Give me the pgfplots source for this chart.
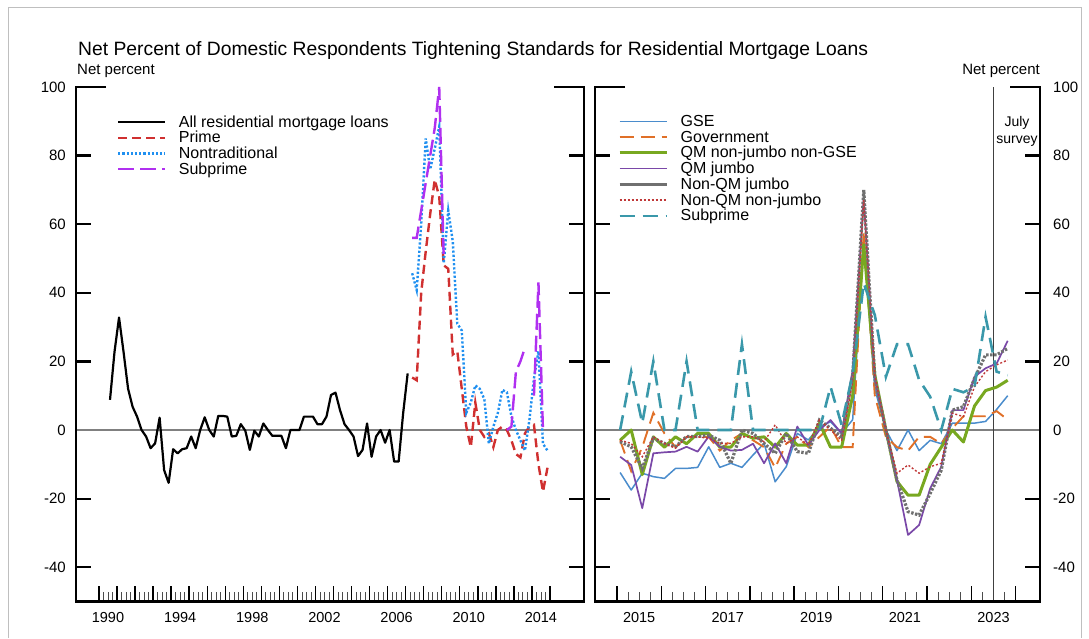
\documentclass[border=0pt]{standalone}
\usepackage{fontspec}
\setmainfont{Liberation Sans}
\usepackage{pgfplots}
\usepackage{pgfplotstable}
\pgfplotsset{compat=1.18}

\definecolor{cPrime}{HTML}{D03030}
\definecolor{cNontrad}{HTML}{2090F0}
\definecolor{cSubL}{HTML}{B030F0}
\definecolor{cGSE}{HTML}{4A8CCC}
\definecolor{cGov}{HTML}{E07028}
\definecolor{cQMN}{HTML}{78A820}
\definecolor{cQMJ}{HTML}{7A48A8}
\definecolor{cNQJ}{HTML}{707070}
\definecolor{cNQN}{HTML}{C03838}
\definecolor{cSubR}{HTML}{3A98AA}

\pgfplotstableread{
x y
1990.61 8.8
1990.86 22.8
1991.11 32.8
1991.36 22.8
1991.61 12.1
1991.86 6.8
1992.11 3.9
1992.36 0
1992.61 -1.9
1992.86 -5.3
1993.11 -3.9
1993.36 3.6
1993.61 -11.7
1993.86 -15.4
1994.11 -5.6
1994.36 -6.8
1994.61 -5.6
1994.86 -5.3
1995.11 -1.9
1995.36 -5.3
1995.61 0
1995.86 3.7
1996.11 0
1996.36 -1.9
1996.61 4.1
1996.86 4.1
1997.11 3.9
1997.36 -1.9
1997.61 -1.7
1997.86 1.7
1998.11 -0.2
1998.36 -5.8
1998.61 -0.2
1998.86 -1.9
1999.11 1.9
1999.36 0
1999.61 -1.7
1999.86 -1.7
2000.11 -1.7
2000.36 -5.3
2000.61 0
2000.86 0
2001.11 0
2001.36 3.9
2001.61 3.9
2001.86 3.9
2002.11 1.7
2002.36 1.7
2002.61 3.9
2002.86 10.2
2003.11 10.9
2003.36 5.8
2003.61 1.7
2003.86 0
2004.11 -1.9
2004.36 -7.6
2004.61 -5.8
2004.86 1.9
2005.11 -7.8
2005.36 -1.9
2005.61 0
2005.86 -3.7
2006.11 0
2006.36 -9.2
2006.61 -9.2
2006.86 4.9
2007.11 16.5
}\allres

\pgfplotstableread{
x prime nontrad sub
2007.36 15.3 45.7 56
2007.61 14.5 40.8 56
2007.86 40 60 64
2008.11 52 85 72
2008.36 63 76 80
2008.61 73 82 88
2008.86 68 88.5 100
2009.11 48 48.6 50
2009.36 47 64 nan
2009.61 22 55 nan
2009.86 23 31 nan
2010.11 12 29 nan
2010.36 1 5 nan
2010.61 -5 8 nan
2010.86 8 13 nan
2011.11 0 12 nan
2011.36 -2 9 nan
2011.61 -1 -4 nan
2011.86 -5 1 nan
2012.11 0 5 nan
2012.36 1 11.7 nan
2012.61 0 11 0
2012.86 -3 4 1
2013.11 -7 0 17
2013.36 -8 -3 20
2013.61 -1 -6 24
2013.86 1 3 nan
2014.11 1.5 15 10
2014.36 -10 23 43
2014.61 -18 -4 0
2014.86 -11 -6 nan
}\leftdata

\pgfplotstableread{
x gse gov qmn qmj nqj nqn sub
2015.07 -12.4 -3 -3 -7.8 -3.4 -3 0
2015.32 -17.5 -12 0 -10.2 -4.9 -3.9 17
2015.57 -12.6 -5 -13 -22.8 -11.2 -7.8 2
2015.82 -13.6 5 -2 -6.8 -2.4 -2 20
2016.07 -14.1 -1 -5 -6.5 -3.9 -3.9 0
2016.32 -11.2 -5 -2 -6.3 -4.9 -5.3 0
2016.57 -11.2 -2 -4 -4.9 -1.9 -2 20
2016.82 -10.9 -2 -1 -6.3 -1.9 -2 0
2017.07 -4.9 -2 -1 -1.9 -1.5 -2.4 0
2017.32 -10.9 -6 -5 -4.9 -3 -3.9 0
2017.57 -9.7 -3 -5 -6 -9.7 -3.9 0
2017.82 -10.9 -1 -1 -5.8 0 -2 25
2018.07 -7.3 -3 -2.4 -4 -1 -2 0
2018.32 -3.9 -5 -2 -9.7 -3.9 -3.4 0
2018.57 -15.1 -11 -5 -3.9 -6.8 1.5 0
2018.82 -10.7 -4 -1 -9.7 -1 -3.9 0
2019.07 -1 -2 -4.4 1 -6.3 -2 0
2019.32 -2.9 -5 -4.4 -4.4 -6.8 -4.4 0
2019.57 1 -2 2 0 2.9 3 0
2019.82 2.4 1 -5 2.9 0.5 0 12.6
2020.07 -1 -5 -5 -1 -2 -3 1.5
2020.32 3 -5 10 17.5 16 14 16.5
2020.57 55 58 54 68 70 67 42.8
2020.82 12 10 16 14.6 15 16 33.5
2021.07 0 -2 0 0 0 0 15.5
2021.32 -6 -5 -15 -14.6 -14.6 -12.6 25
2021.57 0 -6 -19 -30.6 -23.8 -10.2 25
2021.82 -6 -2 -19 -27.7 -24.8 -12.6 14.6
2022.07 -3 -2 -10 -17 -18.5 -10.7 9.7
2022.32 -4 -4 -5 -10.7 -11.7 -9.7 0
2022.57 2 0.5 0 5.8 5.8 4.9 12
2022.82 2 4 -3.5 5.8 6.8 3.9 11
2023.07 2 4 7 15.5 15 12.6 12.6
2023.32 2.5 4 11.5 18 21.9 17 33
2023.57 6 5.5 12.5 19.4 21.9 19 17
2023.82 10 3 14.5 26 23.8 20.4 16
}\rightdata

\tikzset{myframe/.style={line width=2.6pt, black, line join=miter}}

\pgfplotsset{
  panel/.style={
    scale only axis,
    height=514.5pt,
    ymin=-50, ymax=100,
    ytick={-40,-20,0,20,40,60,80,100},
    yticklabels={-40,-20,0,20,40,60,80,100},
    axis line style={draw=none},
    clip=false,
    tick align=inside,
    major tick length=15.5pt,
    minor tick length=10pt,
    xtick pos=left,
    ytick pos=both,
    ytick style={line width=2.2pt, black},
    xtick style={line width=1.4pt, black},
    minor x tick style={line width=0.9pt, black!70},
    tick label style={font=\fontsize{15}{15}\selectfont, inner sep=0pt, text=black},
    x tick label style={font=\fontsize{14.5}{14.5}\selectfont, anchor=north, yshift=-11pt},
    legend image code/.code={\draw[#1] (0pt,5pt) -- (47pt,5pt);},
    legend style={draw=none, fill=none, inner sep=0pt, outer sep=0pt,
      anchor=north west, column sep=10.5pt,
      font=\fontsize{16}{16}\selectfont,
      cells={anchor=base west}},
  },
}

\begin{document}
\begin{tikzpicture}
\useasboundingbox (0pt,0pt) rectangle (1089pt,638pt);
\draw[black!25, line width=1pt] (8pt,0pt) -- (8pt,630pt) -- (1081pt,630pt) -- (1081pt,0pt);

\node[anchor=base west, inner sep=0pt, font=\fontsize{19.3}{20}\selectfont] at (78pt,582pt)
  {Net Percent of Domestic Respondents Tightening Standards for Residential Mortgage Loans};
\node[anchor=base west, inner sep=0pt, font=\fontsize{15}{15}\selectfont] at (77pt,563pt) {Net percent};
\node[anchor=base east, inner sep=0pt, font=\fontsize{15}{15}\selectfont] at (1040pt,563pt) {Net percent};
\node[anchor=base, inner sep=0pt, font=\fontsize{14}{14}\selectfont] at (1017pt,511pt) {July};
\node[anchor=base, inner sep=0pt, font=\fontsize{14}{14}\selectfont] at (1017pt,494pt) {survey};

% Left panel
\begin{axis}[panel,
  at={(76pt,36.5pt)}, anchor=south west,
  width=508pt,
  xmin=1988.725, xmax=2016.885,
  xtick={1990,...,2015},
  minor xtick={1990,1990.25,...,2015},
  xticklabels={1990,,,,1994,,,,1998,,,,2002,,,,2006,,,,2010,,,,2014,},
  x tick label style={xshift=9pt},
  yticklabel pos=left,
  y tick label style={anchor=east, xshift=-10pt},
  legend style={at={(0.0807,0.9485)}, row sep=-1.4pt},
]
\addplot[forget plot, black!50, line width=1.3pt] coordinates {(1988.725,0) (2016.885,0)};
\addplot[black, line width=2.2pt, line join=round] table[x=x,y=y] {\allres};
\addlegendentry{All residential mortgage loans}
\addplot[cPrime, line width=2.4pt, dash pattern=on 9pt off 5pt] table[x=x,y=prime] {\leftdata};
\addlegendentry{Prime}
\addplot[cNontrad, line width=2.4pt, dash pattern=on 2.2pt off 2pt] table[x=x,y=nontrad] {\leftdata};
\addlegendentry{Nontraditional}
\addplot[cSubL, line width=2.4pt, dash pattern=on 16pt off 6pt, unbounded coords=jump] table[x=x,y=sub] {\leftdata};
\addlegendentry{Subprime}
\draw[myframe] ([xshift=30pt]rel axis cs:0,1) -- (rel axis cs:0,1) -- (rel axis cs:0,0) -- (rel axis cs:1,0) -- (rel axis cs:1,1) -- ([xshift=-30pt]rel axis cs:1,1);
\end{axis}

% Right panel
\begin{axis}[panel,
  at={(595pt,36.5pt)}, anchor=south west,
  width=445pt,
  xmin=2014.503, xmax=2024.549,
  xtick={2015,...,2024},
  minor xtick={2015,2015.25,...,2024},
  xticklabels={2015,,2017,,2019,,2021,,2023,},
  x tick label style={xshift=22.15pt},
  yticklabel pos=right,
  y tick label style={anchor=west, xshift=13pt},
  legend style={at={(0.0517,0.9485)}, row sep=-1.33pt},
]
\addplot[forget plot, black!50, line width=1.3pt] coordinates {(2014.503,0) (2024.549,0)};
\addplot[forget plot, black!75, line width=1.1pt] coordinates {(2023.49,-50) (2023.49,100)};
\addplot[cGSE, line width=1.5pt, line join=round] table[x=x,y=gse] {\rightdata};
\addlegendentry{GSE}
\addplot[cGov, line width=1.9pt, dash pattern=on 14pt off 7pt] table[x=x,y=gov] {\rightdata};
\addlegendentry{Government}
\addplot[cQMN, line width=3pt, line join=round] table[x=x,y=qmn] {\rightdata};
\addlegendentry{QM non-jumbo non-GSE}
\addplot[cQMJ, line width=1.7pt, line join=round] table[x=x,y=qmj] {\rightdata};
\addlegendentry{QM jumbo}
\addplot[cNQJ, line width=3.2pt, dash pattern=on 2.4pt off 1.6pt, legend image post style={solid}] table[x=x,y=nqj] {\rightdata};
\addlegendentry{Non-QM jumbo}
\addplot[cNQN, line width=1.4pt, dash pattern=on 2pt off 2pt] table[x=x,y=nqn] {\rightdata};
\addlegendentry{Non-QM non-jumbo}
\addplot[cSubR, line width=2.6pt, dash pattern=on 15pt off 8pt] table[x=x,y=sub] {\rightdata};
\addlegendentry{Subprime}
\draw[myframe] ([xshift=30pt]rel axis cs:0,1) -- (rel axis cs:0,1) -- (rel axis cs:0,0) -- (rel axis cs:1,0) -- (rel axis cs:1,1) -- ([xshift=-30pt]rel axis cs:1,1);
\end{axis}
\end{tikzpicture}
\end{document}
